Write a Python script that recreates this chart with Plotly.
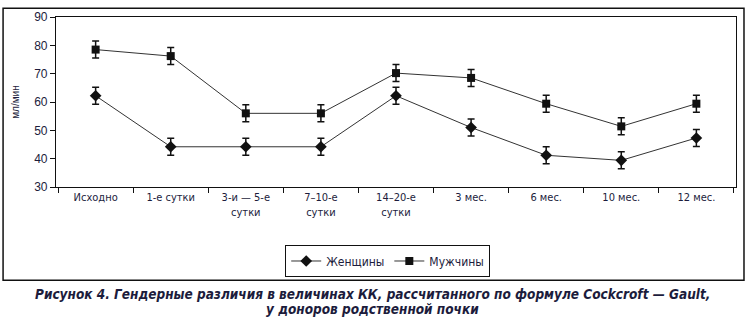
import plotly.graph_objects as go

categories = ["Исходно", "1-е сутки", "3-и — 5-е<br>сутки", "7–10-е<br>сутки",
              "14–20-е<br>сутки", "3 мес.", "6 мес.", "10 мес.", "12 мес."]
women = [62.2, 44.2, 44.2, 44.2, 62.2, 51.0, 41.2, 39.4, 47.3]
women_err = [3, 3, 3, 3, 3, 3, 3, 3, 3]
men = [78.5, 76.2, 56.0, 56.0, 70.2, 68.5, 59.4, 51.4, 59.4]
men_err = [3, 3, 3, 3, 3, 3, 3, 3, 3]
y_ticks = [30, 40, 50, 60, 70, 80, 90]

TXT = "#1c1c3c"
NARROW = "DejaVu Sans Condensed, Liberation Sans Narrow, Liberation Sans"
W, H = 747, 322
L, R, T, B = 56, 10, 12, 135
pw, ph = W - L - R, H - T - B

def px(x):
    return (x - L) / pw

def py(y):
    return (H - B - y) / ph

fig = go.Figure()
fig.add_trace(go.Scatter(
    x=categories, y=women, name="Женщины", mode="lines+markers",
    line=dict(color="#333333", width=1),
    marker=dict(symbol="diamond", size=9, color="#111111"),
    error_y=dict(type="data", array=women_err, color="#111111", thickness=1.5, width=3.5),
))
fig.add_trace(go.Scatter(
    x=categories, y=men, name="Мужчины", mode="lines+markers",
    line=dict(color="#333333", width=1),
    marker=dict(symbol="square", size=8, color="#111111"),
    error_y=dict(type="data", array=men_err, color="#111111", thickness=1.5, width=3.5),
))

fig.update_layout(
    width=W, height=H,
    margin=dict(l=L, r=R, t=T, b=B),
    paper_bgcolor="white", plot_bgcolor="white",
    font=dict(family="Liberation Sans", size=12, color=TXT),
    showlegend=True,
    legend=dict(
        orientation="h", x=px(388), xanchor="center", y=py(247), yanchor="top",
        bordercolor="#111111", borderwidth=1.2, bgcolor="white",
        font=dict(family=NARROW, size=12, color=TXT),
        itemwidth=30,
    ),
    xaxis=dict(
        type="category", showline=True, linecolor="#111111", linewidth=1.2, mirror=True,
        ticks="outside", tickson="boundaries", ticklen=5, tickcolor="#111111",
        showgrid=False, zeroline=False,
        tickfont=dict(family=NARROW, size=11, color=TXT),
    ),
    yaxis=dict(
        range=[30, 90], tickvals=y_ticks, showline=True, linecolor="#111111", linewidth=1.2,
        mirror=True, ticks="outside", ticklen=5, tickcolor="#111111", showgrid=False,
        zeroline=False, tickfont=dict(family="Liberation Sans", size=12, color=TXT),
        title=dict(text="мл/мин", font=dict(family="Liberation Sans", size=10, color=TXT), standoff=12),
    ),
    shapes=[dict(type="rect", xref="paper", yref="paper",
                 x0=px(3), x1=px(745), y0=py(283), y1=py(3),
                 line=dict(color="#111111", width=1.5))],
    annotations=[
        dict(text="<b><i>Рисунок 4. Гендерные различия в величинах КК, рассчитанного по формуле Cockcroft — Gault,</i></b>",
             xref="paper", yref="paper", x=px(373), y=py(297), xanchor="center", yanchor="middle",
             showarrow=False, font=dict(family=NARROW, size=13.5, color=TXT)),
        dict(text="<b><i>у доноров родственной почки</i></b>",
             xref="paper", yref="paper", x=px(373), y=py(313), xanchor="center", yanchor="middle",
             showarrow=False, font=dict(family=NARROW, size=13.5, color=TXT)),
    ],
)

fig.write_html("out.html")
